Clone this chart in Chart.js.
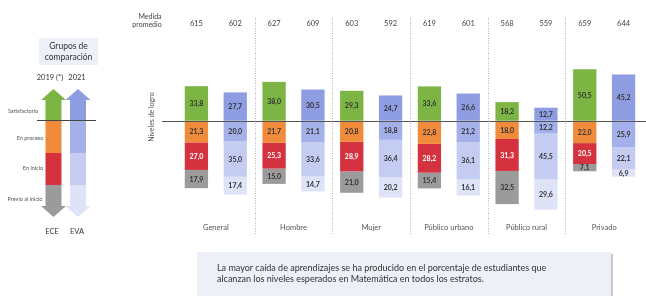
<!DOCTYPE html>
<html>
<head>
<meta charset="utf-8">
<script src="https://cdn.jsdelivr.net/npm/chart.js@4/dist/chart.umd.min.js"></script>
<style>
html,body{margin:0;padding:0;background:#fff;}
#c{display:block;}
</style>
</head>
<body>
<canvas id="c" width="646" height="298"></canvas>
<script>
// ---- data ----
const groups = ['General', 'Hombre', 'Mujer', 'Público urbano', 'Público rural', 'Privado'];
const years = ['ECE', 'EVA'];
const levels = ['Satisfactorio', 'En proceso', 'En inicio', 'Previo al inicio'];
const ece_satisfactorio = [33.8, 38.0, 29.3, 33.6, 18.2, 50.5];
const ece_proceso       = [21.3, 21.7, 20.8, 22.8, 18.0, 22.0];
const ece_inicio        = [27.0, 25.3, 28.9, 28.2, 31.3, 20.5];
const ece_previo        = [17.9, 15.0, 21.0, 15.4, 32.5, 7.1];
const eva_satisfactorio = [27.7, 30.5, 24.7, 26.6, 12.7, 45.2];
const eva_proceso       = [20.0, 21.1, 18.8, 21.2, 12.2, 25.9];
const eva_inicio        = [35.0, 33.6, 36.4, 36.1, 45.5, 22.1];
const eva_previo        = [17.4, 14.7, 20.2, 16.1, 29.6, 6.9];
const media_ece = [615, 627, 603, 619, 568, 659];
const media_eva = [602, 609, 592, 601, 559, 644];

// ---- styles ----
const FONT = 'Lato, "Open Sans", sans-serif';
const eceColors = ['#7db544', '#f08b3c', '#d4323f', '#9b9b9b'];
const evaColors = ['#8e9ce2', '#a4b0ea', '#c5ccf2', '#dfe3f8'];

// build interleaved slots (ECE, EVA per group)
const slots = [];
groups.forEach((g) => { years.forEach((y) => slots.push(g + ' ' + y)); });
function interleave(a, b, sign) {
  const out = [];
  for (let i = 0; i < a.length; i++) { out.push(sign * a[i]); out.push(sign * b[i]); }
  return out;
}
const seriesECE = [ece_satisfactorio, ece_proceso, ece_inicio, ece_previo];
const seriesEVA = [eva_satisfactorio, eva_proceso, eva_inicio, eva_previo];
const datasets = levels.map((lv, k) => ({
  label: lv,
  data: interleave(seriesECE[k], seriesEVA[k], k === 0 ? 1 : -1),
  backgroundColor: slots.map((s, i) => (i % 2 === 0 ? eceColors[k] : evaColors[k])),
  borderWidth: 0,
  barPercentage: 0.6,
  categoryPercentage: 1.0
}));

function fmt(v) { return Math.abs(v).toFixed(1).replace('.', ','); }

function arrow(ctx, cx, top, bottom, segs, colors) {
  const shaftW = 16, headW = 25, headH = 11;
  for (let i = 0; i < colors.length; i++) {
    const y0 = segs[i], y1 = segs[i + 1];
    ctx.fillStyle = colors[i];
    ctx.beginPath();
    if (i === 0) {
      ctx.moveTo(cx, top);
      ctx.lineTo(cx + headW / 2, top + headH);
      ctx.lineTo(cx + shaftW / 2, top + headH);
      ctx.lineTo(cx + shaftW / 2, y1);
      ctx.lineTo(cx - shaftW / 2, y1);
      ctx.lineTo(cx - shaftW / 2, top + headH);
      ctx.lineTo(cx - headW / 2, top + headH);
    } else if (i === colors.length - 1) {
      ctx.moveTo(cx - shaftW / 2, y0);
      ctx.lineTo(cx + shaftW / 2, y0);
      ctx.lineTo(cx + shaftW / 2, bottom - headH);
      ctx.lineTo(cx + headW / 2, bottom - headH);
      ctx.lineTo(cx, bottom);
      ctx.lineTo(cx - headW / 2, bottom - headH);
      ctx.lineTo(cx - shaftW / 2, bottom - headH);
    } else {
      ctx.rect(cx - shaftW / 2, y0, shaftW, y1 - y0);
    }
    ctx.closePath();
    ctx.fill();
  }
}

const decor = {
  id: 'decor',
  beforeDraw(chart) {
    const ctx = chart.ctx;
    ctx.save();
    ctx.fillStyle = '#fff';
    ctx.fillRect(0, 0, chart.width, chart.height);
    ctx.restore();
  },
  afterDatasetsDraw(chart) {
    const ctx = chart.ctx, xs = chart.scales.x, ys = chart.scales.y;
    ctx.save();
    ctx.textAlign = 'center';
    ctx.textBaseline = 'middle';

    // bar value labels
    ctx.font = 'bold 7px ' + FONT;
    chart.data.datasets.forEach((ds, di) => {
      const meta = chart.getDatasetMeta(di);
      meta.data.forEach((bar, i) => {
        const cy = (bar.y + bar.base) / 2;
        ctx.fillStyle = (di === 2 && i % 2 === 0) ? '#ffffff' : '#333333';
        ctx.fillText(fmt(ds.data[i]), bar.x, cy + 0.5);
      });
    });

    // baseline
    const y0 = ys.getPixelForValue(0);
    ctx.strokeStyle = '#555';
    ctx.lineWidth = 1;
    ctx.beginPath();
    ctx.moveTo(162, Math.round(y0) + 0.5);
    ctx.lineTo(646, Math.round(y0) + 0.5);
    ctx.stroke();

    // dotted separators
    ctx.strokeStyle = '#b5b5b5';
    ctx.setLineDash([1, 1.5]);
    for (let g = 0; g < groups.length - 1; g++) {
      const xa = (xs.getPixelForValue(2 * g + 1) + xs.getPixelForValue(2 * g + 2)) / 2;
      ctx.beginPath();
      ctx.moveTo(Math.round(xa) + 0.5, 18);
      ctx.lineTo(Math.round(xa) + 0.5, 235);
      ctx.stroke();
    }
    ctx.setLineDash([]);

    // header: Medida promedio
    ctx.fillStyle = '#444';
    ctx.font = '7px ' + FONT;
    ctx.fillText('Medida', 150, 17);
    ctx.fillText('promedio', 147, 25);
    ctx.font = '7.5px ' + FONT;
    for (let g = 0; g < groups.length; g++) {
      ctx.fillText(String(media_ece[g]), xs.getPixelForValue(2 * g), 24);
      ctx.fillText(String(media_eva[g]), xs.getPixelForValue(2 * g + 1), 24);
    }

    // group labels
    ctx.fillStyle = '#555';
    ctx.font = '7.5px ' + FONT;
    for (let g = 0; g < groups.length; g++) {
      const xm = (xs.getPixelForValue(2 * g) + xs.getPixelForValue(2 * g + 1)) / 2;
      ctx.fillText(groups[g], xm, 228);
    }

    // y axis title
    ctx.save();
    ctx.translate(152, 117);
    ctx.rotate(-Math.PI / 2);
    ctx.fillStyle = '#555';
    ctx.font = '7px ' + FONT;
    ctx.fillText('Niveles de logro', 0, 0);
    ctx.restore();

    // ---- left legend ----
    ctx.fillStyle = '#eef0f8';
    ctx.fillRect(39, 38, 59, 27);
    ctx.fillStyle = '#333';
    ctx.font = '8.5px ' + FONT;
    ctx.fillText('Grupos de', 68.5, 46);
    ctx.fillText('comparación', 68.5, 57);
    ctx.font = '7.5px ' + FONT;
    ctx.fillText('2019 (*)', 50, 78);
    ctx.fillText('2021', 77, 78);

    const segs = [89, 121, 153, 185, 217];
    arrow(ctx, 53.5, 89, 217, segs, eceColors);
    arrow(ctx, 78, 89, 217, segs, evaColors);

    ctx.strokeStyle = '#444';
    ctx.beginPath();
    ctx.moveTo(37, 120.5);
    ctx.lineTo(96, 120.5);
    ctx.stroke();

    ctx.fillStyle = '#555';
    ctx.font = '5.5px ' + FONT;
    ctx.fillText(levels[0], 23, 111);
    ctx.fillText(levels[1], 30, 138);
    ctx.fillText(levels[2], 33, 168);
    ctx.fillText(levels[3], 25, 199);

    ctx.fillStyle = '#333';
    ctx.font = '7.5px ' + FONT;
    ctx.fillText(years[0], 52, 232);
    ctx.fillText(years[1], 77, 232);

    // ---- bottom note box ----
    ctx.fillStyle = '#eef0f8';
    ctx.fillRect(197, 252, 415, 44);
    ctx.strokeStyle = '#b8b8b8';
    ctx.lineWidth = 1.5;
    ctx.beginPath();
    ctx.moveTo(612, 254);
    ctx.lineTo(612, 296);
    ctx.stroke();
    ctx.fillStyle = '#333';
    ctx.textAlign = 'left';
    const l1 = 'La mayor caída de aprendizajes se ha producido en el porcentaje de estudiantes que';
    const l2 = 'alcanzan los niveles esperados en Matemática en todos los estratos.';
    let fs = 9;
    ctx.font = fs + 'px ' + FONT;
    const w = ctx.measureText(l1).width;
    if (w > 330) { fs = fs * 330 / w; ctx.font = fs.toFixed(2) + 'px ' + FONT; }
    ctx.fillText(l1, 217, 268);
    ctx.fillText(l2, 217, 279);

    ctx.restore();
  }
};

new Chart(document.getElementById('c'), {
  type: 'bar',
  data: { labels: slots, datasets: datasets },
  options: {
    responsive: false,
    animation: false,
    devicePixelRatio: 1,
    layout: { padding: { left: 177, right: 3, top: 36, bottom: 58 } },
    plugins: { legend: { display: false }, tooltip: { enabled: false } },
    scales: {
      x: { stacked: true, display: false, offset: true, grid: { display: false } },
      y: { stacked: true, display: false, min: -117, max: 83, grid: { display: false } }
    }
  },
  plugins: [decor]
});
</script>
</body>
</html>
